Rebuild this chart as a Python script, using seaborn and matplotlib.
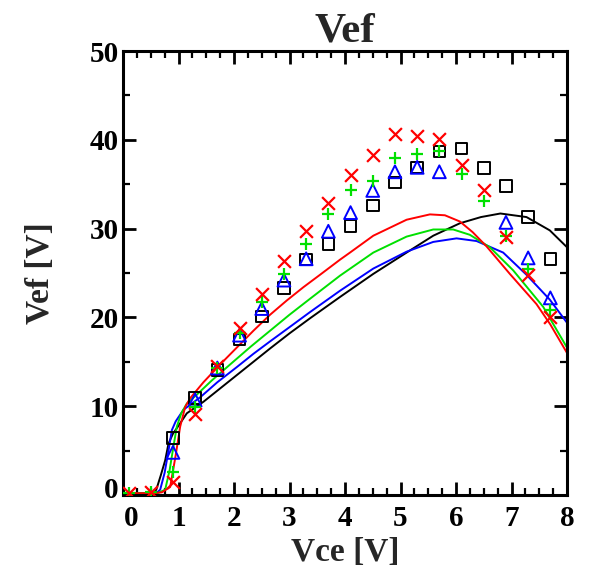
import numpy as np
import pandas as pd
import seaborn as sns
import matplotlib
matplotlib.use("Agg")
import matplotlib.pyplot as plt
from matplotlib.ticker import MultipleLocator
from matplotlib.transforms import ScaledTranslation

# Measured points (markers)
vce_meas = [0.1, 0.5, 0.9, 1.3, 1.7, 2.1, 2.5, 2.9, 3.3, 3.7,
            4.1, 4.5, 4.9, 5.3, 5.7, 6.1, 6.5, 6.9, 7.3, 7.7]
vef_black = [np.nan, np.nan, 6.4, 10.9, 14.1, 17.5, 20.1, 23.3, 26.5, 28.3,
             30.3, 32.6, 35.2, 36.9, 38.7, 39.0, 36.8, 34.8, 31.3, 26.6]
vef_blue = [np.nan, np.nan, 4.8, 10.7, 14.3, 18.0, 21.0, 24.2, 26.6, 29.7,
            31.8, 34.3, 36.4, 36.9, 36.4, np.nan, np.nan, 30.7, 26.7, 22.2]
vef_green = [0.2, 0.3, 2.6, 9.9, 14.3, 18.2, 21.7, 24.9, 28.3, 31.6,
             34.3, 35.4, 37.9, 38.4, 38.7, 36.2, 33.1, 29.2, 25.5, 20.8]
vef_red = [0.2, 0.3, 1.5, 9.1, 14.5, 18.8, 22.6, 26.4, 29.7, 32.9,
           36.0, 38.3, 40.7, 40.4, 40.1, 37.2, 34.3, 29.1, 24.8, 20.0]

# Simulated curves (lines)
sim_black_x = [0, 0.55, 0.6, 0.68, 0.76, 0.82, 0.9, 1.0, 1.15, 1.45, 1.75, 2.05,
               2.35, 2.65, 3.0, 3.37, 3.91, 4.51, 5.11, 5.59, 6.07, 6.45, 6.8,
               7.27, 7.69, 8.0]
sim_black_y = [0.2, 0.2, 0.6, 2.2, 3.9, 5.8, 6.9, 7.8, 9.2, 10.5, 12.0, 13.5,
               15.0, 16.5, 18.2, 19.9, 22.3, 24.9, 27.3, 29.2, 30.6, 31.3, 31.7,
               31.3, 29.8, 27.9]
sim_blue_x = [0, 0.6, 0.67, 0.75, 0.82, 0.88, 0.95, 1.09, 1.39, 1.7, 2.05, 2.35,
              2.65, 3.0, 3.37, 3.91, 4.51, 5.11, 5.59, 6.01, 6.37, 6.85, 7.27,
              7.69, 8.0]
sim_blue_y = [0.2, 0.2, 0.6, 2.5, 5.0, 7.3, 8.3, 9.6, 11.0, 12.7, 14.4, 15.9,
              17.3, 18.9, 20.6, 23.0, 25.5, 27.4, 28.5, 28.9, 28.6, 27.3, 24.8,
              22.0, 19.4]
sim_green_x = [0, 0.62, 0.76, 0.84, 0.91, 0.97, 1.05, 1.15, 1.33, 1.6, 1.93, 2.3,
               2.65, 3.0, 3.37, 3.91, 4.51, 5.11, 5.59, 5.95, 6.25, 6.61, 7.03,
               7.57, 8.0]
sim_green_y = [0.2, 0.2, 0.6, 2.8, 5.5, 7.7, 9.2, 10.3, 11.3, 12.9, 14.7, 16.7,
               18.5, 20.3, 22.1, 24.7, 27.3, 29.1, 29.9, 29.9, 29.3, 27.9, 25.3,
               21.2, 16.6]
sim_red_x = [0, 0.55, 0.7, 0.85, 0.95, 1.03, 1.12, 1.21, 1.45, 1.75, 2.05, 2.35,
             2.65, 2.95, 3.25, 3.55, 3.91, 4.09, 4.51, 5.11, 5.53, 5.8, 6.07,
             6.3, 6.55, 6.97, 7.45, 7.7, 8.0]
sim_red_y = [0.2, 0.2, 0.3, 0.9, 4.5, 7.7, 9.9, 10.9, 12.7, 14.7, 16.6, 18.5,
             20.3, 21.9, 23.4, 24.8, 26.5, 27.3, 29.2, 31.0, 31.6, 31.5, 30.8,
             29.6, 28.0, 24.9, 21.5, 19.2, 16.0]

x_ticks = [0, 1, 2, 3, 4, 5, 6, 7, 8]
y_ticks = [0, 10, 20, 30, 40, 50]

sns.set_theme(style="ticks")
plt.rcParams["font.family"] = ["Liberation Serif", "DejaVu Serif"]
plt.rcParams["font.weight"] = "bold"

fig = plt.figure(figsize=(5.92, 5.73), dpi=100)
ax = fig.add_axes([123 / 592, 78 / 573, 444 / 592, 444 / 573])

series = [
    ("black", sim_black_x, sim_black_y, vef_black, "s"),
    ("blue", sim_blue_x, sim_blue_y, vef_blue, "^"),
    ("#00e000", sim_green_x, sim_green_y, vef_green, "+"),
    ("red", sim_red_x, sim_red_y, vef_red, "x"),
]

for i, (col, sx, sy, my, mk) in enumerate(series):
    sns.lineplot(x=sx, y=sy, ax=ax, color=col, linewidth=1.4,
                 sort=False, zorder=2 + i * 0.1)

for i, (col, sx, sy, my, mk) in enumerate(series):
    df = pd.DataFrame({"vce": vce_meas, "vef": my}).dropna()
    if mk in ("s", "^"):
        sns.scatterplot(data=df, x="vce", y="vef", ax=ax, marker=mk,
                        s=70 if mk == "s" else 85, facecolor="none",
                        edgecolor=col, linewidth=1.4, zorder=4 + i)
    else:
        sns.scatterplot(data=df, x="vce", y="vef", ax=ax, marker=mk,
                        s=85, color=col, linewidth=1.6, zorder=4 + i)

ax.set_xlim(0, 8)
ax.set_ylim(0, 50)
ax.set_xticks(x_ticks)
ax.set_yticks(y_ticks)
ax.xaxis.set_minor_locator(MultipleLocator(0.25))
ax.yaxis.set_minor_locator(MultipleLocator(5))
ax.tick_params(which="both", direction="in", top=True, right=True,
               colors="black", labelsize=21)
ax.tick_params(which="major", length=9.5, width=2, pad=7)
ax.tick_params(which="minor", length=5, width=1.6)
ax.tick_params(axis="y", which="major", pad=3)
for sp in ax.spines.values():
    sp.set_visible(True)
    sp.set_linewidth(2.2)
    sp.set_color("black")
for lab in ax.get_xticklabels() + ax.get_yticklabels():
    lab.set_fontweight("bold")

# keep the two zero labels clear of the corner
xl0 = ax.get_xticklabels()[0]
xl0.set_transform(xl0.get_transform() + ScaledTranslation(8 / 100, 0, fig.dpi_scale_trans))
yl0 = ax.get_yticklabels()[0]
yl0.set_transform(yl0.get_transform() + ScaledTranslation(0, 8 / 100, fig.dpi_scale_trans))

ax.set_xlabel("Vce [V]", fontsize=24, fontweight="bold", labelpad=4)
ax.set_ylabel("Vef [V]", fontsize=24, fontweight="bold", labelpad=24)
ax.set_title("Vef", fontsize=31, fontweight="bold", pad=5)
ax.grid(False)

fig.savefig("out.png", dpi=100)
